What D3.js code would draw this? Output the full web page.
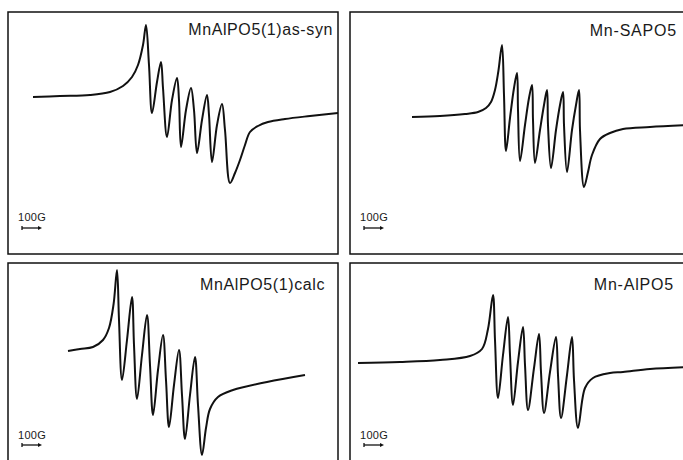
<!DOCTYPE html>
<html>
<head>
<meta charset="utf-8">
<script src="https://cdn.jsdelivr.net/npm/d3@7"></script>
<style>
  body { margin: 0; background: #fff; }
  .frame { fill: none; stroke: #111; stroke-width: 1.5; }
  .spectrum { fill: none; stroke: #111; stroke-width: 2; stroke-linejoin: round; }
  .label { font-family: "Liberation Sans", Arial, sans-serif; font-size: 16px; fill: #1a1a1a; }
  .bar-text { font-family: "Liberation Sans", Arial, sans-serif; font-size: 11px; fill: #1a1a1a; letter-spacing: 0.3px; }
  .bar { stroke: #111; stroke-width: 1.3; fill: none; }
</style>
</head>
<body>
<div id="chart"></div>
<script>
(function(){

  // spectra: [field offset (G), signal (arb. units)]
  var asSynSpectrum = [
    [125,36],[260,37],[410,38],[510,41],[575,47],[620,56],[650,68],[675,88],[690,108],
    [705,68],[720,20],[745,51],[765,71],[775,45],[795,-4],[820,33],[845,55],
    [855,33],[865,-14],[890,23],[915,45],[930,23],[945,-20],[970,13],[995,38],
    [1005,18],[1020,-29],[1045,8],[1070,29],[1085,3],[1110,-50],[1135,-40],
    [1160,-27],[1185,-12],[1210,1],[1250,7],[1300,11],[1385,14],[1510,17],[1650,20]
  ]
  var sapoSpectrum = [
    [310,16],[450,17],[575,19],[640,21],[680,25],[705,31],[725,43],[742,62],[760,88],
    [770,38],[780,-18],[800,15],[820,45],[835,60],[840,23],[850,-28],[875,8],
    [895,35],[910,48],[915,13],[925,-30],[950,3],[970,28],[985,43],[990,8],
    [1005,-35],[1030,3],[1050,28],[1065,41],[1070,8],[1085,-39],[1110,3],
    [1130,28],[1145,43],[1150,3],[1170,-54],[1190,-39],[1210,-22],[1250,-6],
    [1300,0],[1365,4],[1500,6],[1700,8]
  ]
  var calcSpectrum = [
    [300,33],[360,35],[425,37],[475,44],[505,56],[528,80],[545,114],[555,64],
    [570,4],[595,44],[620,87],[630,39],[645,-15],[670,29],[695,69],[710,19],
    [725,-31],[750,14],[775,49],[790,4],[805,-43],[830,-1],[855,34],[870,-11],
    [885,-55],[910,-11],[935,27],[950,-21],[970,-71],[990,-44],[1010,-25],
    [1050,-13],[1125,-6],[1295,2],[1485,9]
  ]
  var alpoSpectrum = [
    [40,21],[250,22],[450,24],[600,28],[660,35],[690,55],[715,89],[725,44],
    [740,-14],[765,29],[790,67],[800,29],[815,-21],[840,22],[865,57],[875,19],
    [890,-26],[920,16],[945,50],[955,12],[970,-29],[1000,12],[1030,47],[1040,9],
    [1055,-34],[1085,9],[1110,47],[1120,4],[1140,-44],[1175,-4],[1215,6],
    [1300,11],[1365,12],[1500,15],[1700,17]
  ]

  var labels = ["MnAlPO5(1)as-syn", "Mn-SAPO5", "MnAlPO5(1)calc", "Mn-AlPO5"]
  var scaleBarField = 100 // gauss
  var scaleBarText = "100G"

  var width = 683,
    height = 460

  // panel boxes (page layout)
  var panels = [
    { data: asSynSpectrum, label: labels[0], x: 8,   y: 12,  w: 330, h: 242, lx: 333, ly: 35,  by: 221, ay: 228, ls: 0.6 },
    { data: sapoSpectrum,  label: labels[1], x: 350, y: 12,  w: 345, h: 242, lx: 677, ly: 36,  by: 221, ay: 228, ls: 0.8 },
    { data: calcSpectrum,  label: labels[2], x: 8,   y: 263, w: 330, h: 260, lx: 325, ly: 290, by: 439, ay: 445, ls: 0.6 },
    { data: alpoSpectrum,  label: labels[3], x: 350, y: 263, w: 345, h: 260, lx: 674, ly: 290, by: 439, ay: 445, ls: 0.8 }
  ]

  var svg = d3.select("#chart")
    .append("svg")
    .attr("width", width)
    .attr("height", height)

  svg.append("rect").attr("width", width).attr("height", height).attr("fill", "#fff")

  panels.forEach(function(p) {
    // field axis: 5 G per pixel, same for every panel
    var x = d3.scaleLinear().domain([0, 1650]).range([p.x, p.x + 330])
    var y = d3.scaleLinear().domain([-121, 121]).range([p.y + 242, p.y])

    var g = svg.append("g")

    g.append("rect")
      .attr("class", "frame")
      .attr("x", p.x)
      .attr("y", p.y)
      .attr("width", p.w)
      .attr("height", p.h)

    var line = d3.line()
      .x(function(d) { return x(d[0]) })
      .y(function(d) { return y(d[1]) })
      .curve(d3.curveCatmullRom.alpha(0.5))

    g.append("path")
      .datum(p.data)
      .attr("class", "spectrum")
      .attr("d", line)

    g.append("text")
      .attr("class", "label")
      .attr("x", p.lx)
      .attr("y", p.ly)
      .attr("text-anchor", "end")
      .style("letter-spacing", p.ls + "px")
      .text(p.label)

    // 100 G scale bar
    var bx0 = p.x + 14,
      bx1 = bx0 + (x(scaleBarField) - x(0))

    g.append("text")
      .attr("class", "bar-text")
      .attr("x", p.x + 10)
      .attr("y", p.by)
      .text(scaleBarText)

    g.append("line").attr("class", "bar")
      .attr("x1", bx0).attr("x2", bx1 - 3)
      .attr("y1", p.ay).attr("y2", p.ay)
    g.append("line").attr("class", "bar")
      .attr("x1", bx0).attr("x2", bx0)
      .attr("y1", p.ay - 2).attr("y2", p.ay + 2)
    g.append("path")
      .attr("d", "M" + (bx1 - 4) + "," + (p.ay - 2) + "L" + bx1 + "," + p.ay + "L" + (bx1 - 4) + "," + (p.ay + 2) + "Z")
      .attr("fill", "#111")
  })

})();
</script>
</body>
</html>
